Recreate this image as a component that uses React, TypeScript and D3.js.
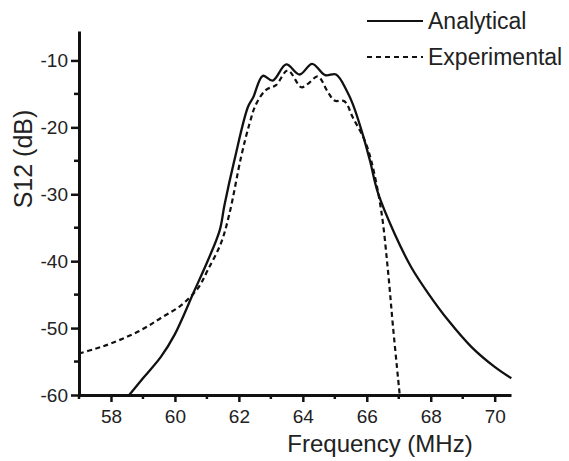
import { useRef, useEffect } from "react";
import * as d3 from "d3";

// Analytical (solid) curve, frequency in MHz / S12 in dB
const analyticalFreq = [58.57, 59.0, 59.56, 60.0, 60.6, 61.03, 61.4, 61.55, 61.86, 62.28, 62.45, 62.75, 63.06, 63.48, 63.9, 64.29, 64.7, 65.04, 65.4, 65.56, 65.87, 66.1, 66.35, 66.87, 67.39, 67.92, 68.54, 69.27, 70.0, 70.52];
const analyticalDb = [-60, -57.5, -54.3, -50.9, -44.5, -39.9, -35.4, -31.6, -24.9, -17.0, -15.5, -12.3, -13.0, -10.6, -12.1, -10.5, -12.2, -12.1, -14.8, -16.5, -21.0, -25.0, -29.8, -35.9, -40.9, -44.8, -48.8, -52.8, -55.8, -57.5];

// Experimental (dashed) curve
const experimentalFreq = [57.0, 57.5, 58.0, 58.94, 59.56, 60.19, 60.71, 61.03, 61.44, 61.7, 62.07, 62.33, 62.54, 62.85, 63.16, 63.53, 63.95, 64.16, 64.47, 64.78, 64.99, 65.3, 65.56, 65.93, 66.14, 66.45, 66.66, 66.82, 67.03];
const experimentalDb = [-53.8, -53.1, -52.3, -50.3, -48.5, -46.6, -44.1, -41.3, -37.3, -33.0, -24.4, -19.5, -16.5, -14.4, -13.7, -11.5, -14.0, -13.5, -12.4, -14.7, -16.0, -16.1, -18.5, -21.9, -25.0, -32.4, -41.3, -49.8, -60];

const xMajorTicks = [58, 60, 62, 64, 66, 68, 70];
const xMinorTicks = [57, 59, 61, 63, 65, 67, 69];
const yMajorTicks = [-60, -50, -40, -30, -20, -10];
const yMinorTicks = [-55, -45, -35, -25, -15];

const seriesNames = ["Analytical", "Experimental"];

export default function App() {
  const svgRef = useRef<SVGSVGElement>(null);

  useEffect(() => {
    const svg = d3.select(svgRef.current);
    svg.selectAll("*").remove();

    const width = 569;
    const height = 461;
    const font = "Arial, 'Liberation Sans', Helvetica, sans-serif";

    const x = d3.scaleLinear().domain([57, 70.51]).range([79, 511]);
    const y = d3.scaleLinear().domain([-60, -5.6]).range([395, 31]);

    svg.attr("width", width).attr("height", height);

    // series
    const line = d3
      .line<[number, number]>()
      .x(d => x(d[0]))
      .y(d => y(d[1]))
      .curve(d3.curveCatmullRom.alpha(0.5));

    const analytical = analyticalFreq.map((f, i) => [f, analyticalDb[i]] as [number, number]);
    const experimental = experimentalFreq.map((f, i) => [f, experimentalDb[i]] as [number, number]);

    svg
      .append("path")
      .datum(experimental)
      .attr("fill", "none")
      .attr("stroke", "#111")
      .attr("stroke-width", 2.2)
      .attr("stroke-dasharray", "5,3.5")
      .attr("d", line);

    svg
      .append("path")
      .datum(analytical)
      .attr("fill", "none")
      .attr("stroke", "#111")
      .attr("stroke-width", 2.3)
      .attr("d", line);

    // X axis
    const xAxis = svg.append("g").attr("transform", `translate(0,${y(-60)})`);
    xAxis
      .call(d3.axisBottom(x).tickValues(xMajorTicks).tickFormat(d => String(d)).tickSize(7).tickSizeOuter(0).tickPadding(8))
      .call(g => g.select(".domain").attr("stroke-width", 3).attr("stroke", "#111"))
      .call(g => g.selectAll(".tick line").attr("stroke-width", 2.5).attr("stroke", "#111"))
      .call(g => g.selectAll(".tick text").attr("font-size", 19).attr("font-family", font).attr("fill", "#222"));
    xAxis
      .selectAll(".minor")
      .data(xMinorTicks)
      .enter()
      .append("line")
      .attr("class", "minor")
      .attr("x1", d => x(d))
      .attr("x2", d => x(d))
      .attr("y1", 0)
      .attr("y2", 4)
      .attr("stroke", "#111")
      .attr("stroke-width", 2.5);

    // Y axis
    const yAxis = svg.append("g").attr("transform", `translate(${x(57)},0)`);
    yAxis
      .call(d3.axisLeft(y).tickValues(yMajorTicks).tickFormat(d => String(d)).tickSize(8).tickSizeOuter(0).tickPadding(3))
      .call(g => g.select(".domain").attr("stroke-width", 3).attr("stroke", "#111"))
      .call(g => g.selectAll(".tick line").attr("stroke-width", 2.5).attr("stroke", "#111"))
      .call(g => g.selectAll(".tick text").attr("font-size", 19).attr("font-family", font).attr("fill", "#222"));
    yAxis
      .selectAll(".minor")
      .data(yMinorTicks)
      .enter()
      .append("line")
      .attr("class", "minor")
      .attr("x1", 0)
      .attr("x2", -5)
      .attr("y1", d => y(d))
      .attr("y2", d => y(d))
      .attr("stroke", "#111")
      .attr("stroke-width", 2.5);

    // axis titles
    svg
      .append("text")
      .attr("x", 380)
      .attr("y", 452)
      .attr("text-anchor", "middle")
      .attr("font-size", 24)
      .attr("font-family", font)
      .attr("fill", "#222")
      .text("Frequency (MHz)");

    svg
      .append("text")
      .attr("transform", "translate(32,159) rotate(-90)")
      .attr("text-anchor", "middle")
      .attr("font-size", 25)
      .attr("font-family", font)
      .attr("fill", "#222")
      .text("S12 (dB)");

    // legend
    const legend = svg.append("g");
    seriesNames.forEach((name, i) => {
      const ly = 21 + i * 36;
      legend
        .append("line")
        .attr("x1", 367)
        .attr("x2", 423)
        .attr("y1", ly)
        .attr("y2", ly)
        .attr("stroke", "#111")
        .attr("stroke-width", 2.2)
        .attr("stroke-dasharray", i === 1 ? "5,4" : null);
      legend
        .append("text")
        .attr("x", 428)
        .attr("y", ly + 8)
        .attr("font-size", 23)
        .attr("font-family", font)
        .attr("fill", "#222")
        .text(name);
    });
  }, []);

  return (
    <svg
      ref={svgRef}
      style={{ position: "absolute", left: 0, top: 0, display: "block", background: "#fff" }}
    />
  );
}
